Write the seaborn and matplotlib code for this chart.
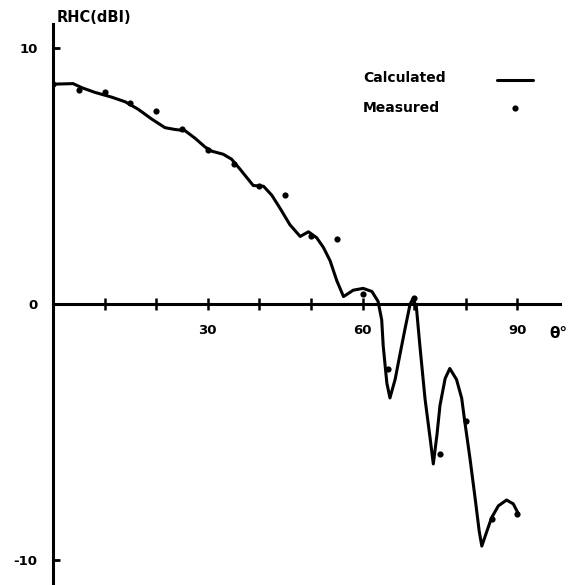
import matplotlib
matplotlib.use('Agg')
import matplotlib.pyplot as plt
import seaborn as sns

# calculated curve (theta in degrees, gain in dBi)
calc_theta = [0.0, 3.9, 5.6, 8.1, 11.4, 14.0, 16.5, 19.1, 21.7, 23.6, 25.6, 27.5,
              29.5, 30.8, 33.0, 34.6, 36.2, 38.8, 40.8, 42.4, 44.0, 45.9, 47.9,
              49.5, 51.1, 52.4, 53.7, 55.0, 56.3, 58.2, 60.1, 61.8, 63.0, 63.7,
              64.0, 64.7, 65.3, 66.3, 67.3, 68.2, 69.2, 69.7, 70.4, 71.1, 72.1,
              73.1, 73.7, 74.4, 75.0, 76.0, 76.9, 78.2, 79.2, 79.8, 80.8, 81.8,
              82.6, 83.1, 84.1, 85.0, 86.3, 87.9, 89.2, 90.2]
calc_db = [8.59, 8.61, 8.45, 8.27, 8.08, 7.90, 7.61, 7.23, 6.89, 6.82, 6.77, 6.48,
           6.13, 5.97, 5.85, 5.66, 5.28, 4.63, 4.60, 4.25, 3.74, 3.10, 2.64,
           2.82, 2.59, 2.21, 1.69, 0.91, 0.29, 0.54, 0.61, 0.49, 0.10, -0.62,
           -1.65, -3.09, -3.67, -2.95, -1.91, -0.99, -0.01, 0.19, -0.07, -1.63, -3.71,
           -5.27, -6.25, -5.13, -3.96, -2.91, -2.52, -2.95, -3.68, -4.59, -6.02, -7.58,
           -8.88, -9.46, -8.87, -8.35, -7.89, -7.66, -7.81, -8.20]

# measured points
meas_theta = [0, 5, 10, 15, 20, 25, 30, 35, 40, 45, 50, 55, 60, 65, 70, 75, 80, 85, 90]
meas_db = [8.6, 8.35, 8.28, 7.87, 7.56, 6.85, 6.0, 5.47, 4.6, 4.27, 2.66, 2.52,
           0.39, -2.53, 0.25, -5.85, -4.59, -8.41, -8.2]

x_ticks = [10, 20, 30, 40, 50, 60, 70, 80, 90]
x_ticklabels = ['', '', '30', '', '', '60', '', '', '90']
y_ticks = [-10, 0, 10]
y_ticklabels = ['-10', '0', '10']
series_names = ['Calculated', 'Measured']

sns.set_style('ticks', {'axes.edgecolor': 'black', 'text.color': 'black',
                        'xtick.color': 'black', 'ytick.color': 'black'})
plt.rcParams['font.family'] = ['DejaVu Sans']

W, H = 570, 585
fig = plt.figure(figsize=(W / 100, H / 100), dpi=100)
ax = fig.add_axes([53 / W, 0, 516 / W, 561 / H])

sns.lineplot(x=calc_theta, y=calc_db, color='black', linewidth=2.2,
             ax=ax, label=series_names[0])
sns.scatterplot(x=meas_theta, y=meas_db, color='black', s=20, edgecolor='black',
                linewidth=0, ax=ax, label=series_names[1], zorder=3)

ax.set_xlim(0, 100)
ax.set_ylim(-10.98, 10.94)

for side in ['top', 'right']:
    ax.spines[side].set_visible(False)
ax.spines['left'].set_linewidth(2.2)
ax.spines['bottom'].set_position(('data', 0))
ax.spines['bottom'].set_bounds(0, 98.3)
ax.spines['bottom'].set_linewidth(2.2)

ax.set_xticks(x_ticks)
ax.set_xticklabels(x_ticklabels, fontsize=9.5, fontweight='bold')
ax.tick_params(axis='x', direction='inout', length=9, width=1.8, pad=10)
ax.set_yticks(y_ticks)
ax.set_yticklabels(y_ticklabels, fontsize=9.5, fontweight='bold')
ax.tick_params(axis='y', direction='in', length=5, width=2, pad=11)

fig.text(57 / W, 1 - 18 / H, 'RHC(dBI)', fontsize=10.5, fontweight='bold', va='center')
fig.text(549 / W, 1 - 333 / H, 'θ°', fontsize=11, fontweight='bold', va='center')

# legend: names on the left, line / dot samples in a column on the right
handles, _ = ax.get_legend_handles_labels()
ax.legend(handles, ['', ''], loc='upper left', bbox_to_anchor=(490 / W, 1 - 67 / H),
          bbox_transform=fig.transFigure, frameon=False, markerfirst=False,
          borderpad=0, handlelength=2.6, handletextpad=0, labelspacing=0.95,
          prop={'size': 10})
fig.text(363 / W, 1 - 78 / H, series_names[0], fontsize=10, fontweight='bold', va='center')
fig.text(363 / W, 1 - 108 / H, series_names[1], fontsize=10, fontweight='bold', va='center')

fig.savefig('out.png', dpi=100)
